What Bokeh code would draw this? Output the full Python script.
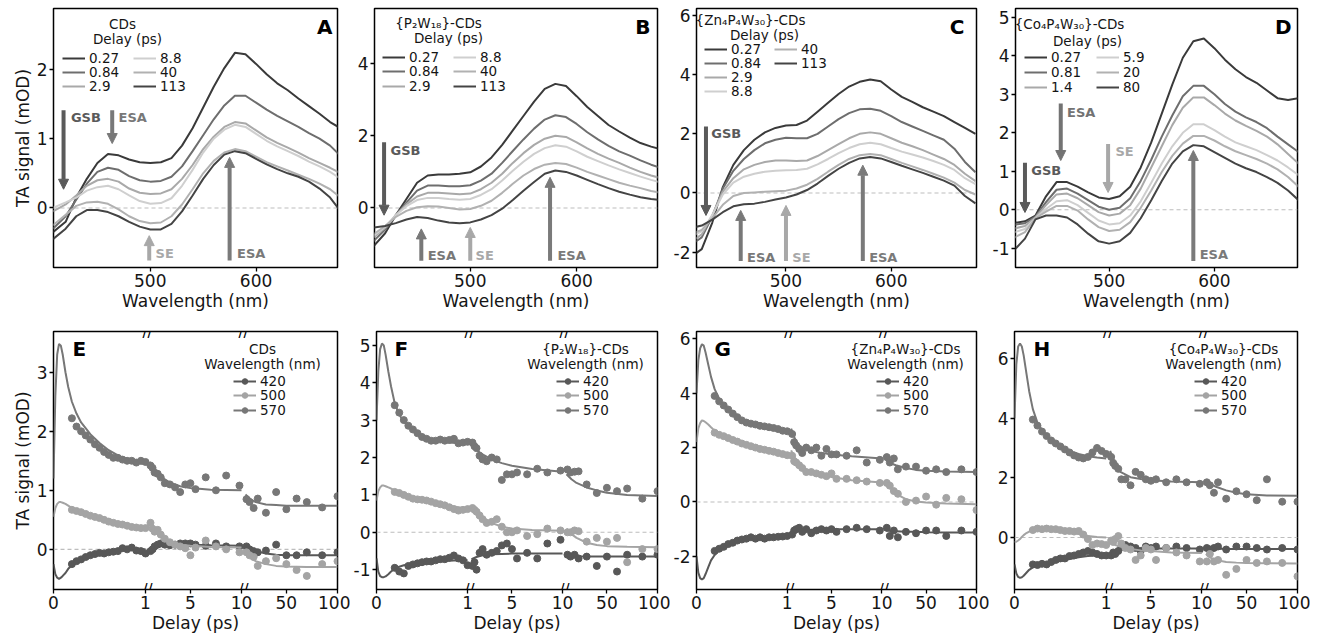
import json
from bokeh.plotting import figure
from bokeh.layouts import row, column
from bokeh.models import (Range1d, FixedTicker, Span, Label, Legend, LegendItem,
                          Arrow, NormalHead, CustomJSTickFormatter)
from bokeh.core.properties import value
from bokeh.embed import file_html
from bokeh.resources import INLINE

FONT = "DejaVu Sans"
TXT = "#151515"

# ------------------------------------------------------------------ data: spectra (top row)
LAM = [408, 420, 430, 440, 450, 460, 470, 480, 490, 500, 510, 520, 530, 540, 550,
       560, 570, 580, 590, 600, 610, 620, 630, 640, 650, 660, 670, 680]

DELAYS_ABC = ["0.27", "0.84", "2.9", "8.8", "40", "113"]
DELAYS_D = ["0.27", "0.81", "1.4", "5.9", "20", "80"]

A_027 = [-0.35, -0.2, 0.15, 0.42, 0.65, 0.78, 0.76, 0.70, 0.66, 0.65, 0.66, 0.72, 0.90, 1.15, 1.45, 1.75, 2.02, 2.24, 2.22, 2.08, 1.93, 1.80, 1.70, 1.58, 1.47, 1.36, 1.24, 1.15]
A_084 = [-0.30, -0.12, 0.12, 0.35, 0.52, 0.58, 0.55, 0.46, 0.40, 0.38, 0.39, 0.45, 0.60, 0.82, 1.05, 1.28, 1.48, 1.62, 1.62, 1.52, 1.42, 1.33, 1.25, 1.17, 1.08, 1.00, 0.90, 0.75]
A_29 = [-0.05, 0.05, 0.18, 0.32, 0.40, 0.42, 0.38, 0.28, 0.22, 0.20, 0.21, 0.27, 0.42, 0.62, 0.85, 1.03, 1.17, 1.24, 1.22, 1.12, 1.02, 0.94, 0.87, 0.80, 0.72, 0.65, 0.58, 0.50]
A_88 = [0.0, 0.08, 0.15, 0.25, 0.30, 0.32, 0.27, 0.18, 0.10, 0.06, 0.07, 0.14, 0.32, 0.55, 0.80, 1.00, 1.13, 1.20, 1.17, 1.07, 0.97, 0.89, 0.82, 0.75, 0.67, 0.60, 0.52, 0.42]
A_40 = [-0.25, -0.1, 0.03, 0.08, 0.09, 0.06, -0.02, -0.12, -0.19, -0.22, -0.21, -0.12, 0.05, 0.27, 0.50, 0.68, 0.80, 0.85, 0.82, 0.74, 0.66, 0.60, 0.54, 0.48, 0.42, 0.35, 0.27, 0.15]
A_113 = [-0.45, -0.3, -0.12, -0.03, -0.03, -0.06, -0.12, -0.20, -0.27, -0.31, -0.31, -0.23, -0.05, 0.18, 0.42, 0.62, 0.77, 0.82, 0.79, 0.71, 0.63, 0.56, 0.50, 0.45, 0.38, 0.28, 0.15, -0.05]

B_027 = [-1.1, -0.7, -0.2, 0.25, 0.7, 0.9, 0.93, 0.93, 0.95, 0.99, 1.15, 1.4, 1.75, 2.15, 2.55, 2.95, 3.3, 3.44, 3.38, 3.1, 2.8, 2.55, 2.3, 2.12, 1.95, 1.8, 1.7, 1.62]
B_084 = [-0.95, -0.6, -0.2, 0.15, 0.48, 0.62, 0.62, 0.6, 0.6, 0.63, 0.76, 0.95, 1.25, 1.58, 1.9, 2.2, 2.45, 2.57, 2.52, 2.33, 2.1, 1.9, 1.72, 1.57, 1.45, 1.32, 1.2, 1.1]
B_29 = [-0.85, -0.55, -0.2, 0.1, 0.32, 0.42, 0.42, 0.4, 0.38, 0.4, 0.52, 0.7, 0.95, 1.25, 1.52, 1.75, 1.92, 2.0, 1.97, 1.82, 1.65, 1.5, 1.37, 1.25, 1.12, 1.0, 0.9, 0.82]
B_88 = [-0.8, -0.52, -0.2, 0.05, 0.22, 0.28, 0.28, 0.25, 0.23, 0.25, 0.36, 0.52, 0.76, 1.03, 1.28, 1.5, 1.66, 1.74, 1.7, 1.57, 1.42, 1.3, 1.18, 1.07, 0.97, 0.87, 0.78, 0.7]
B_40 = [-0.75, -0.5, -0.25, -0.08, 0.02, 0.05, 0.04, 0.0, -0.04, -0.03, 0.06, 0.2, 0.42, 0.67, 0.9, 1.08, 1.2, 1.25, 1.22, 1.12, 1.0, 0.9, 0.8, 0.7, 0.62, 0.55, 0.47, 0.42]
B_113 = [-0.55, -0.5, -0.42, -0.32, -0.25, -0.28, -0.35, -0.4, -0.42, -0.4, -0.32, -0.2, -0.02, 0.22, 0.48, 0.72, 0.95, 1.04, 1.0, 0.9, 0.78, 0.66, 0.55, 0.45, 0.37, 0.3, 0.25, 0.22]

C_027 = [-2.2, -1.9, -1.0, 0.2, 0.95, 1.45, 1.8, 2.05, 2.2, 2.28, 2.3, 2.45, 2.75, 3.05, 3.35, 3.6, 3.76, 3.84, 3.78, 3.5, 3.25, 3.08, 2.9, 2.75, 2.6, 2.4, 2.2, 2.0]
C_084 = [-1.8, -1.5, -0.8, 0.15, 0.75, 1.15, 1.45, 1.68, 1.8, 1.87, 1.85, 1.85, 2.0, 2.25, 2.5, 2.7, 2.83, 2.85, 2.78, 2.6, 2.4, 2.25, 2.1, 1.95, 1.8, 1.5, 1.05, 0.7]
C_29 = [-1.7, -1.4, -0.75, 0.05, 0.5, 0.8, 0.95, 1.05, 1.1, 1.1, 1.08, 1.1, 1.25, 1.45, 1.65, 1.85, 2.0, 2.05, 2.0, 1.85, 1.7, 1.58, 1.45, 1.3, 1.15, 0.95, 0.65, 0.4]
C_88 = [-1.5, -1.3, -0.75, -0.05, 0.35, 0.55, 0.65, 0.72, 0.75, 0.77, 0.78, 0.82, 0.97, 1.15, 1.35, 1.52, 1.65, 1.7, 1.65, 1.52, 1.4, 1.3, 1.2, 1.08, 0.95, 0.78, 0.5, 0.3]
C_40 = [-1.4, -1.25, -0.85, -0.4, -0.1, 0.0, 0.02, 0.04, 0.06, 0.08, 0.15, 0.28, 0.48, 0.72, 0.95, 1.15, 1.28, 1.32, 1.28, 1.15, 1.02, 0.9, 0.78, 0.65, 0.52, 0.35, 0.1, -0.05]
C_113 = [-1.2, -1.1, -0.9, -0.65, -0.45, -0.38, -0.36, -0.3, -0.22, -0.15, -0.05, 0.1, 0.32, 0.58, 0.82, 1.02, 1.17, 1.22, 1.17, 1.05, 0.92, 0.8, 0.68, 0.55, 0.42, 0.25, -0.1, -0.35]

D_027 = [-0.35, -0.3, -0.15, 0.35, 0.72, 0.72, 0.6, 0.45, 0.32, 0.28, 0.35, 0.6, 1.1, 1.75, 2.5, 3.25, 3.95, 4.38, 4.45, 4.2, 3.9, 3.65, 3.45, 3.3, 3.1, 2.9, 2.85, 2.9]
D_081 = [-0.4, -0.35, -0.18, 0.2, 0.52, 0.55, 0.42, 0.25, 0.08, 0.0, 0.05, 0.3, 0.75, 1.3, 1.9, 2.45, 2.95, 3.22, 3.22, 3.0, 2.75, 2.55, 2.4, 2.28, 2.12, 1.9, 1.7, 1.5]
D_14 = [-0.5, -0.42, -0.2, 0.12, 0.4, 0.42, 0.3, 0.12, -0.06, -0.15, -0.1, 0.12, 0.55, 1.1, 1.65, 2.2, 2.65, 2.92, 2.92, 2.72, 2.5, 2.32, 2.18, 2.05, 1.9, 1.7, 1.45, 1.2]
D_59 = [-0.6, -0.5, -0.22, 0.02, 0.22, 0.25, 0.12, -0.08, -0.28, -0.38, -0.35, -0.15, 0.22, 0.7, 1.2, 1.65, 2.0, 2.22, 2.22, 2.07, 1.9, 1.75, 1.65, 1.55, 1.42, 1.28, 1.1, 0.9]
D_20 = [-0.75, -0.58, -0.22, -0.05, 0.1, 0.1, -0.02, -0.25, -0.45, -0.55, -0.52, -0.32, 0.05, 0.5, 0.98, 1.4, 1.72, 1.92, 1.92, 1.8, 1.65, 1.52, 1.42, 1.32, 1.2, 1.05, 0.85, 0.6]
D_80 = [-1.1, -0.75, -0.25, -0.15, -0.15, -0.2, -0.38, -0.62, -0.82, -0.88, -0.82, -0.6, -0.22, 0.25, 0.75, 1.2, 1.52, 1.68, 1.65, 1.5, 1.35, 1.2, 1.08, 0.98, 0.85, 0.7, 0.5, 0.25]

SAMPLES = ["CDs", "{P\u2082W\u2081\u2088}-CDs", "{Zn\u2084P\u2084W\u2083\u2080}-CDs", "{Co\u2084P\u2084W\u2083\u2080}-CDs"]

# annotations: (text, x_nm, y_from, y_to, colour, text_x, text_y)
ANN_A = [("GSB", 418, 1.41, 0.27, "#5a5a5a", 425, 1.31), ("ESA", 464, 1.41, 0.93, "#787878", 470, 1.31),
         ("SE", 499, -0.76, -0.40, "#a8a8a8", 505, -0.66), ("ESA", 575, -0.76, 0.73, "#7a7a7a", 582, -0.66)]
ANN_B = [("GSB", 419, 1.82, -0.2, "#5a5a5a", 425, 1.59), ("ESA", 454, -1.46, -0.58, "#787878", 460, -1.32),
         ("SE", 500, -1.46, -0.54, "#a8a8a8", 505, -1.32), ("ESA", 575, -1.46, 0.85, "#7a7a7a", 582, -1.32)]
ANN_C = [("GSB", 424, 2.25, -0.76, "#5a5a5a", 429, 2.02), ("ESA", 457, -2.3, -0.59, "#787878", 463, -2.17),
         ("SE", 500, -2.3, -0.42, "#a8a8a8", 506, -2.17), ("ESA", 573, -2.3, 0.94, "#7a7a7a", 579, -2.17)]
ANN_D = [("GSB", 420, 1.22, -0.07, "#5a5a5a", 426, 1.02), ("ESA", 454, 2.76, 1.28, "#737373", 460, 2.54),
         ("SE", 499, 1.71, 0.45, "#a8a8a8", 506, 1.52), ("ESA", 580, -1.33, 1.54, "#7a7a7a", 586, -1.16)]

# ------------------------------------------------------------------ data: kinetics (bottom row)
WAVES = ["420", "500", "570"]
T_FIT0 = [0, 0.02, 0.04, 0.06, 0.08, 0.1, 0.13, 0.16, 0.2, 0.25, 0.3, 0.4, 0.5, 0.6, 0.7, 0.8, 0.9, 1.0]
T_FIT1 = [1, 1.5, 2, 3, 4, 5, 7, 10]
T_FIT2 = [10, 15, 20, 30, 40, 50, 70, 100]
T_DOT0 = [0.2, 0.25, 0.3, 0.35, 0.4, 0.45, 0.5, 0.55, 0.6, 0.65, 0.7, 0.75, 0.8, 0.85, 0.9, 0.95, 1.0]
T_DOT1 = [1.1, 1.3, 1.5, 1.8, 2.1, 2.5, 3, 3.5, 4, 4.5, 5, 5.5, 6.5, 7.5, 8.5, 9.8]
T_DOT2 = [11, 14, 18, 22, 30, 40, 50, 60, 70, 85, 100]

E570_f0 = [1.2, 2.6, 3.3, 3.48, 3.45, 3.3, 3.0, 2.75, 2.5, 2.3, 2.15, 1.95, 1.8, 1.68, 1.59, 1.52, 1.47, 1.44]
E570_f1 = [1.48, 1.33, 1.24, 1.13, 1.07, 1.04, 1.01, 1.0]
E570_f2 = [0.93, 0.85, 0.8, 0.76, 0.75, 0.74, 0.74, 0.74]
E570_d0 = [2.22, 2.08, 2.0, 1.93, 1.86, 1.78, 1.72, 1.65, 1.6, 1.55, 1.55, 1.52, 1.5, 1.5, 1.47, 1.5, 1.48]
E570_d1 = [1.42, 1.38, 1.3, 1.28, 1.22, 1.12, 1.1, 1.05, 0.97, 1.1, 1.12, 1.02, 1.22, 1.0, 1.25, 1.08]
E570_d2 = [0.85, 0.8, 0.7, 0.86, 0.62, 0.97, 0.68, 0.86, 0.8, 0.71, 0.9]
E500_f0 = [0.55, 0.7, 0.77, 0.8, 0.8, 0.79, 0.77, 0.74, 0.7, 0.67, 0.64, 0.58, 0.53, 0.48, 0.44, 0.4, 0.37, 0.35]
E500_f1 = [0.42, 0.3, 0.22, 0.12, 0.08, 0.06, 0.04, 0.03]
E500_f2 = [-0.05, -0.15, -0.2, -0.25, -0.28, -0.29, -0.3, -0.3]
E500_d0 = [0.67, 0.65, 0.63, 0.6, 0.57, 0.55, 0.53, 0.5, 0.47, 0.45, 0.43, 0.42, 0.4, 0.38, 0.37, 0.36, 0.36]
E500_d1 = [0.45, 0.35, 0.3, 0.33, 0.25, 0.18, 0.12, 0.08, 0.05, 0.02, -0.1, 0.03, 0.15, 0.05, 0.0, -0.05]
E500_d2 = [-0.05, -0.1, -0.13, -0.28, -0.2, -0.15, -0.25, -0.35, -0.45, -0.25, -0.2]
E420_f0 = [-0.25, -0.42, -0.48, -0.5, -0.48, -0.45, -0.4, -0.33, -0.27, -0.22, -0.18, -0.12, -0.08, -0.05, -0.03, -0.01, 0.0, 0.0]
E420_f1 = [-0.02, 0.04, 0.06, 0.08, 0.08, 0.08, 0.07, 0.06]
E420_f2 = [0.05, 0.0, -0.03, -0.07, -0.09, -0.1, -0.1, -0.1]
E420_d0 = [-0.25, -0.2, -0.17, -0.13, -0.1, -0.08, -0.06, -0.07, -0.05, -0.04, -0.03, 0.02, 0.0, 0.03, -0.02, -0.03, -0.07]
E420_d1 = [-0.03, 0.0, 0.05, 0.08, 0.1, 0.08, 0.07, 0.08, 0.1, 0.1, 0.1, 0.08, 0.06, 0.1, 0.05, 0.05]
E420_d2 = [0.05, 0.0, -0.03, -0.05, -0.02, 0.08, -0.1, -0.1, -0.05, -0.1, -0.05]

F570_f0 = [3.0, 4.3, 4.9, 5.05, 5.0, 4.75, 4.3, 3.9, 3.45, 3.15, 2.95, 2.72, 2.58, 2.49, 2.44, 2.4, 2.38, 2.37]
F570_f1 = [2.35, 2.2, 2.1, 1.95, 1.85, 1.78, 1.69, 1.62]
F570_f2 = [1.55, 1.42, 1.32, 1.2, 1.12, 1.06, 1.0, 0.97]
F570_d0 = [3.4, 3.2, 3.0, 2.85, 2.75, 2.65, 2.55, 2.5, 2.45, 2.45, 2.48, 2.45, 2.47, 2.5, 2.38, 2.4, 2.42]
F570_d1 = [2.4, 2.3, 2.25, 2.05, 1.95, 1.9, 2.0, 1.95, 1.4, 1.55, 1.55, 1.6, 1.55, 1.7, 1.6, 1.65]
F570_d2 = [1.68, 1.6, 1.62, 1.63, 1.28, 1.05, 1.19, 1.1, 1.17, 0.9, 1.1]
F500_f0 = [0.85, 1.1, 1.2, 1.25, 1.25, 1.23, 1.2, 1.17, 1.12, 1.07, 1.03, 0.95, 0.88, 0.82, 0.76, 0.71, 0.67, 0.63]
F500_f1 = [0.7, 0.53, 0.42, 0.25, 0.15, 0.1, 0.06, 0.04]
F500_f2 = [0.1, -0.05, -0.15, -0.28, -0.34, -0.37, -0.39, -0.4]
F500_d0 = [1.08, 1.05, 1.0, 0.95, 0.9, 0.88, 0.87, 0.85, 0.82, 0.78, 0.75, 0.72, 0.67, 0.62, 0.58, 0.6, 0.62]
F500_d1 = [0.65, 0.6, 0.55, 0.45, 0.35, 0.25, 0.28, 0.35, 0.15, 0.0, 0.0, 0.05, -0.1, -0.05, 0.1, 0.05]
F500_d2 = [0.0, 0.0, 0.05, 0.03, -0.25, -0.15, -0.25, -0.15, -0.8, -0.45, -0.45]
F420_f0 = [-0.7, -1.05, -1.17, -1.2, -1.2, -1.18, -1.12, -1.05, -0.98, -0.92, -0.88, -0.84, -0.81, -0.79, -0.77, -0.76, -0.75, -0.75]
F420_f1 = [-0.72, -0.66, -0.62, -0.59, -0.58, -0.57, -0.57, -0.57]
F420_f2 = [-0.62, -0.63, -0.64, -0.65, -0.65, -0.65, -0.65, -0.65]
F420_d0 = [-0.95, -1.05, -1.1, -0.9, -0.86, -0.83, -0.8, -0.78, -0.78, -0.75, -0.72, -0.72, -0.68, -0.62, -0.7, -0.75, -0.88]
F420_d1 = [-0.9, -0.8, -1.0, -0.55, -0.45, -0.6, -0.55, -0.5, -0.35, -0.3, -0.45, -0.7, -0.55, -0.7, -0.3, -0.2]
F420_d2 = [-0.6, -0.65, -0.6, -0.7, -0.65, -0.9, -0.65, -1.05, -0.6, -0.65, -0.6]

G570_f0 = [4.0, 5.2, 5.65, 5.8, 5.75, 5.5, 5.05, 4.6, 4.15, 3.8, 3.55, 3.22, 3.02, 2.9, 2.8, 2.72, 2.65, 2.6]
G570_f1 = [2.7, 2.2, 2.02, 1.87, 1.8, 1.75, 1.68, 1.6]
G570_f2 = [1.55, 1.42, 1.35, 1.25, 1.18, 1.15, 1.12, 1.1]
G570_d0 = [3.9, 3.7, 3.55, 3.4, 3.25, 3.12, 3.0, 2.92, 2.88, 2.85, 2.8, 2.78, 2.75, 2.72, 2.68, 2.62, 2.6]
G570_d1 = [2.5, 2.2, 2.08, 1.95, 1.8, 2.0, 1.9, 2.0, 1.7, 1.95, 1.75, 1.75, 1.7, 1.9, 1.45, 1.55]
G570_d2 = [1.65, 1.45, 1.6, 1.2, 1.3, 1.3, 1.15, 1.2, 1.1, 1.2, 1.1]
G500_f0 = [2.2, 2.7, 2.9, 3.0, 2.98, 2.93, 2.85, 2.75, 2.62, 2.5, 2.42, 2.28, 2.15, 2.05, 1.95, 1.87, 1.8, 1.73]
G500_f1 = [1.9, 1.5, 1.3, 1.1, 1.0, 0.92, 0.8, 0.72]
G500_f2 = [0.75, 0.5, 0.3, 0.1, 0.02, -0.02, -0.06, -0.08]
G500_d0 = [2.55, 2.47, 2.42, 2.35, 2.28, 2.22, 2.15, 2.1, 2.05, 2.0, 1.95, 1.92, 1.88, 1.85, 1.8, 1.76, 1.72]
G500_d1 = [1.7, 1.5, 1.45, 1.35, 1.25, 1.1, 1.1, 1.05, 1.0, 0.95, 1.05, 0.85, 0.85, 0.8, 0.75, 0.7]
G500_d2 = [0.7, 0.6, 0.4, 0.3, 0.0, 0.05, 0.2, -0.1, 0.15, 0.1, -0.3]
G420_f0 = [-2.0, -2.6, -2.8, -2.85, -2.8, -2.65, -2.4, -2.15, -1.95, -1.78, -1.65, -1.5, -1.42, -1.36, -1.32, -1.3, -1.28, -1.25]
G420_f1 = [-1.15, -1.08, -1.05, -1.02, -1.0, -1.0, -1.0, -1.0]
G420_f2 = [-1.05, -1.07, -1.08, -1.1, -1.1, -1.11, -1.12, -1.12]
G420_d0 = [-1.8, -1.72, -1.65, -1.55, -1.5, -1.42, -1.38, -1.35, -1.3, -1.35, -1.3, -1.35, -1.3, -1.3, -1.28, -1.27, -1.25]
G420_d1 = [-1.2, -1.05, -1.0, -0.95, -1.1, -1.0, -1.15, -1.05, -1.0, -1.05, -1.0, -1.1, -1.0, -0.95, -1.0, -1.05]
G420_d2 = [-0.95, -1.25, -1.05, -1.3, -1.1, -1.15, -1.05, -1.05, -1.25, -1.05, -1.1]

H570_f0 = [4.0, 5.8, 6.4, 6.5, 6.4, 6.1, 5.5, 4.9, 4.3, 3.85, 3.6, 3.25, 3.05, 2.9, 2.8, 2.72, 2.68, 2.65]
H570_f1 = [2.9, 2.45, 2.2, 2.02, 1.96, 1.92, 1.88, 1.85]
H570_f2 = [1.85, 1.78, 1.7, 1.58, 1.5, 1.45, 1.41, 1.4]
H570_d0 = [3.95, 3.75, 3.55, 3.4, 3.25, 3.15, 3.05, 2.95, 2.85, 2.75, 2.68, 2.65, 2.7, 2.85, 3.0, 2.9, 2.8]
H570_d1 = [2.7, 2.5, 2.4, 2.3, 1.95, 1.95, 1.75, 2.2, 2.1, 1.95, 1.9, 1.95, 1.85, 1.95, 1.85, 1.8]
H570_d2 = [1.85, 1.75, 1.5, 1.85, 1.3, 1.55, 1.45, 1.25, 1.95, 1.2, 1.2]
H500_f0 = [-0.15, -0.14, -0.1, -0.05, 0.02, 0.08, 0.15, 0.2, 0.25, 0.27, 0.28, 0.28, 0.25, 0.2, 0.12, 0.05, 0.02, 0.0]
H500_f1 = [-0.15, -0.25, -0.3, -0.38, -0.43, -0.45, -0.5, -0.52]
H500_f2 = [-0.55, -0.68, -0.75, -0.82, -0.84, -0.85, -0.86, -0.87]
H500_d0 = [0.25, 0.3, 0.28, 0.3, 0.28, 0.28, 0.25, 0.22, 0.22, 0.2, 0.22, 0.1, -0.05, -0.25, -0.2, -0.22, -0.25]
H500_d1 = [-0.1, -0.15, -0.05, 0.05, -0.2, -0.35, -0.4, -0.75, -0.6, -0.35, -0.4, -0.75, -0.35, -0.5, -0.6, -0.8]
H500_d2 = [-0.8, -0.55, -0.8, -0.75, -1.25, -1.05, -0.75, -0.85, -0.8, -0.85, -1.3]
H420_f0 = [-0.9, -1.2, -1.32, -1.35, -1.33, -1.28, -1.18, -1.08, -1.0, -0.95, -0.92, -0.85, -0.78, -0.72, -0.66, -0.62, -0.6, -0.6]
H420_f1 = [-0.55, -0.46, -0.42, -0.38, -0.37, -0.37, -0.37, -0.37]
H420_f2 = [-0.37, -0.37, -0.37, -0.38, -0.38, -0.38, -0.38, -0.38]
H420_d0 = [-0.9, -0.92, -0.88, -0.9, -0.82, -0.75, -0.7, -0.7, -0.62, -0.6, -0.55, -0.5, -0.45, -0.5, -0.55, -0.6, -0.6]
H420_d1 = [-0.6, -0.5, -0.55, -0.45, -0.3, -0.25, -0.3, -0.35, -0.45, -0.3, -0.35, -0.3, -0.35, -0.3, -0.35, -0.4]
H420_d2 = [-0.35, -0.4, -0.35, -0.3, -0.4, -0.3, -0.3, -0.35, -0.4, -0.35, -0.4]

X_TICK_LABELS = ["0", "1", "5", "10", "50", "100"]

# ------------------------------------------------------------------ styling / layout
SPEC_COLORS = ["#3a3a3a", "#6e6e6e", "#a9a9a9", "#cfcfcf", "#b1b1b1", "#444444"]
WAVE_COLORS = {"420": "#585858", "500": "#a4a4a4", "570": "#777777"}
COLS = [(53, 284, 13), (24, 283, 13), (24, 282, 13), (25, 283, 13)]
TOP_H, TOP_BT, TOP_BB = 318, 8, 51
BOT_H, BOT_BT, BOT_BB = 318, 13, 47
GAP = 0.043
LEG_FS = "13.5px"
ITEM_H = 15.7


def seg_x(k, ts):
    if k == 0:
        return [float(t) for t in ts]
    if k == 1:
        return [1 + GAP + (t - 1) / 9.0 for t in ts]
    return [2 + 2 * GAP + (t - 10) / 90.0 for t in ts]


XT = [0.0, 1.0, seg_x(1, [5])[0], seg_x(1, [10])[0], seg_x(2, [50])[0], seg_x(2, [100])[0]]

num_fmt = CustomJSTickFormatter(code="return tick < 0 ? '-' + String(-tick) : String(tick);")
brk_fmt = CustomJSTickFormatter(code=(
    "const pos = %s; const lab = %s;"
    "for (let i = 0; i < pos.length; i++) { if (Math.abs(pos[i] - tick) < 1e-6) return lab[i]; }"
    "return '';") % (json.dumps(XT), json.dumps(X_TICK_LABELS)))


def make_fig(col, top, xr, yr, yticks, xlabel, ylabel):
    bl, fw, br = COLS[col]
    if top:
        h, bt, bb = TOP_H, TOP_BT, TOP_BB
    else:
        h, bt, bb = BOT_H, BOT_BT, BOT_BB
    p = figure(width=bl + fw + br, height=h, min_border_left=bl, min_border_right=br,
               min_border_top=bt, min_border_bottom=bb, x_range=Range1d(*xr), y_range=Range1d(*yr),
               output_backend="svg", toolbar_location=None, title=None)
    p.xgrid.visible = False
    p.ygrid.visible = False
    p.outline_line_color = "black"
    p.outline_line_width = 1.5
    p.background_fill_color = "white"
    p.border_fill_color = "white"
    for ax in (p.xaxis[0], p.yaxis[0]):
        ax.axis_line_color = None
        ax.major_tick_out = 4
        ax.major_tick_in = 0
        ax.minor_tick_out = 0
        ax.minor_tick_in = 0
        ax.major_tick_line_color = "black"
        ax.major_tick_line_width = 1.3
        ax.major_label_text_font = FONT
        ax.major_label_text_font_size = "17px"
        ax.major_label_text_color = TXT
        ax.major_label_standoff = 2
        ax.axis_label_text_font = FONT
        ax.axis_label_text_font_size = "17px"
        ax.axis_label_text_font_style = "normal"
        ax.axis_label_text_color = TXT
        ax.axis_label_standoff = 1
    p.yaxis[0].ticker = FixedTicker(ticks=yticks, minor_ticks=[])
    p.yaxis[0].formatter = num_fmt
    p.xaxis[0].axis_label = xlabel
    if ylabel:
        p.yaxis[0].axis_label = ylabel
    p.add_layout(Span(location=0, dimension="width", line_color="#bdbdbd", line_width=1.1,
                      line_dash="4 3", level="underlay"))
    return p, fw, (h - bt - bb)


def add_label(p, x, y, text, size, align="center", baseline="middle", bold=False, color=TXT):
    p.add_layout(Label(x=x, y=y, x_units="screen", y_units="screen", text=text,
                       text_align=align, text_baseline=baseline, text_font=FONT,
                       text_font_size=size, text_color=color,
                       text_font_style="bold" if bold else "normal"))


def add_legend_rows(p, fh, rends, labels, x, row1_center, step):
    # one single-item legend per row, so that the row spacing can be set exactly
    for j, (lab, r) in enumerate(zip(labels, rends)):
        cy = row1_center + j * step
        leg = Legend(items=[LegendItem(label=value(lab), renderers=r)],
                     location=(x, fh - cy - ITEM_H / 2.0), orientation="vertical",
                     padding=0, margin=0, spacing=0, border_line_color=None, background_fill_alpha=0,
                     glyph_width=23, glyph_height=14, label_height=14, label_standoff=4,
                     label_text_font=FONT, label_text_font_size=LEG_FS, label_text_color=TXT)
        p.add_layout(leg)


# ------------------------------------------------------------------ top row
TOP = [
    dict(series=[A_027, A_084, A_29, A_88, A_40, A_113], delays=DELAYS_ABC, xr=(408.5, 677), yr=(-0.86, 2.88),
         yt=[0, 1, 2], ann=ANN_A, letter="A", loff=5, split=3, cx=(9, 80), row1=50, step=14, t1=(69, 15), t2=(74, 30)),
    dict(series=[B_027, B_084, B_29, B_88, B_40, B_113], delays=DELAYS_ABC, xr=(410, 676), yr=(-1.65, 5.53),
         yt=[0, 2, 4], ann=ANN_B, letter="B", loff=7, split=3, cx=(8, 79), row1=49, step=14.5, t1=(64, 14), t2=(74, 29)),
    dict(series=[C_027, C_084, C_29, C_88, C_40, C_113], delays=DELAYS_ABC, xr=(415, 681), yr=(-2.52, 6.24),
         yt=[-2, 0, 2, 4, 6], ann=ANN_C, letter="C", loff=14, split=4, cx=(8, 78), row1=41, step=14, t1=(54, 11), t2=(68, 26)),
    dict(series=[D_027, D_081, D_14, D_59, D_20, D_80], delays=DELAYS_D, xr=(411, 679), yr=(-1.5, 5.23),
         yt=[-1, 0, 1, 2, 3, 4, 5], ann=ANN_D, letter="D", loff=7, split=3, cx=(9, 81), row1=49, step=15, t1=(54, 15), t2=(72, 32)),
]

top_figs = []
for i, cfg in enumerate(TOP):
    p, fw, fh = make_fig(i, True, cfg["xr"], cfg["yr"], cfg["yt"], "Wavelength (nm)",
                         "TA signal (mOD)" if i == 0 else None)
    p.xaxis[0].ticker = FixedTicker(ticks=[500, 600], minor_ticks=[])
    p.xaxis[0].formatter = num_fmt
    rends = []
    for ys, c in zip(cfg["series"], SPEC_COLORS):
        rends.append([p.line(LAM, ys, line_color=c, line_width=2)])
    s = cfg["split"]
    add_legend_rows(p, fh, rends[:s], cfg["delays"][:s], cfg["cx"][0], cfg["row1"], cfg["step"])
    add_legend_rows(p, fh, rends[s:], cfg["delays"][s:], cfg["cx"][1], cfg["row1"], cfg["step"])
    add_label(p, cfg["t1"][0], fh - cfg["t1"][1], SAMPLES[i], LEG_FS)
    add_label(p, cfg["t2"][0], fh - cfg["t2"][1], "Delay (ps)", LEG_FS)
    add_label(p, fw - cfg["loff"], fh - 6, cfg["letter"], "20px", align="right", baseline="top", bold=True,
              color="black")
    for text, xa, y0, y1, col, tx, ty in cfg["ann"]:
        p.add_layout(Arrow(end=NormalHead(size=10, fill_color=col, line_color=col, line_width=1),
                           x_start=xa, y_start=y0, x_end=xa, y_end=y1, line_color=col, line_width=4))
        p.add_layout(Label(x=tx, y=ty, text=text, text_align="left", text_baseline="middle",
                           text_font=FONT, text_font_size="13px", text_font_style="bold", text_color=col))
    top_figs.append(p)

# ------------------------------------------------------------------ bottom row
KIN = [
    {"420": (E420_f0, E420_f1, E420_f2, E420_d0, E420_d1, E420_d2),
     "500": (E500_f0, E500_f1, E500_f2, E500_d0, E500_d1, E500_d2),
     "570": (E570_f0, E570_f1, E570_f2, E570_d0, E570_d1, E570_d2)},
    {"420": (F420_f0, F420_f1, F420_f2, F420_d0, F420_d1, F420_d2),
     "500": (F500_f0, F500_f1, F500_f2, F500_d0, F500_d1, F500_d2),
     "570": (F570_f0, F570_f1, F570_f2, F570_d0, F570_d1, F570_d2)},
    {"420": (G420_f0, G420_f1, G420_f2, G420_d0, G420_d1, G420_d2),
     "500": (G500_f0, G500_f1, G500_f2, G500_d0, G500_d1, G500_d2),
     "570": (G570_f0, G570_f1, G570_f2, G570_d0, G570_d1, G570_d2)},
    {"420": (H420_f0, H420_f1, H420_f2, H420_d0, H420_d1, H420_d2),
     "500": (H500_f0, H500_f1, H500_f2, H500_d0, H500_d1, H500_d2),
     "570": (H570_f0, H570_f1, H570_f2, H570_d0, H570_d1, H570_d2)},
]
BOT = [
    dict(yr=(-0.68, 3.69), yt=[0, 1, 2, 3], letter="E", lx=19),
    dict(yr=(-1.53, 5.37), yt=[-1, 0, 1, 2, 3, 4, 5], letter="F", lx=18),
    dict(yr=(-3.22, 6.27), yt=[-2, 0, 2, 4, 6], letter="G", lx=18),
    dict(yr=(-1.74, 6.9), yt=[0, 2, 4, 6], letter="H", lx=19),
]
T_FITS = [T_FIT0, T_FIT1, T_FIT2]
T_DOTS = [T_DOT0, T_DOT1, T_DOT2]

bot_figs = []
for i, cfg in enumerate(BOT):
    p, fw, fh = make_fig(i, False, (0, 3 + 2 * GAP), cfg["yr"], cfg["yt"], "Delay (ps)",
                         "TA signal (mOD)" if i == 0 else None)
    p.xaxis[0].ticker = FixedTicker(ticks=XT, minor_ticks=[])
    p.xaxis[0].formatter = brk_fmt
    rends = []
    for w in WAVES:
        c = WAVE_COLORS[w]
        data = KIN[i][w]
        first = []
        for k in range(3):
            ln = p.line(seg_x(k, T_FITS[k]), data[k], line_color=c, line_width=2)
            dt = p.scatter(seg_x(k, T_DOTS[k]), data[3 + k], marker="circle", size=7,
                           fill_color=c, line_color=c)
            if k == 0:
                first = [ln, dt]
        rends.append(first)
    add_legend_rows(p, fh, rends, WAVES, 180, 50, 14.5)
    add_label(p, 209, fh - 17, SAMPLES[i], LEG_FS)
    add_label(p, 209, fh - 32, "Wavelength (nm)", LEG_FS)
    add_label(p, cfg["lx"], fh - 5, cfg["letter"], "20px", align="left", baseline="top", bold=True,
              color="black")
    for xb in (1 + GAP / 2.0, 2 + 1.5 * GAP):
        for yy in (0, fh):
            p.add_layout(Label(x=xb, y=yy, x_units="data", y_units="screen", text="//",
                               text_align="center", text_baseline="middle", text_font=FONT,
                               text_font_size="15px", text_color="black"))
    bot_figs.append(p)

layout = column(row(*top_figs), row(*bot_figs))
open("out.html", "w").write(file_html(layout, INLINE))
